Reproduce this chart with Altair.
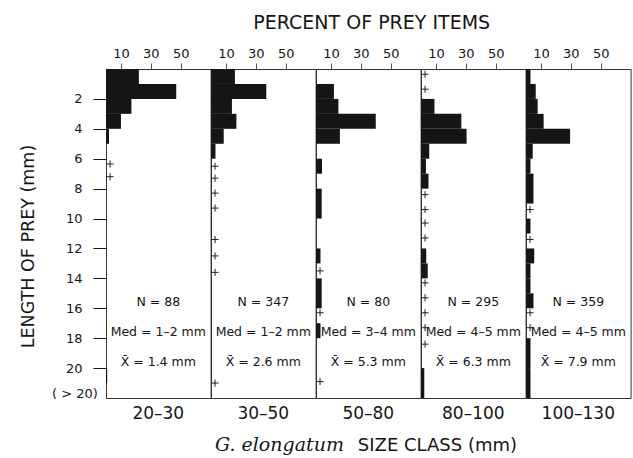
import altair as alt
import pandas as pd

size_classes = ["20–30", "30–50", "50–80", "80–100", "100–130"]

# prey-length bins (mm) and percent of prey items, one list per size class
bar_lo = [
    [0, 1, 2, 3, 4, 20],
    [0, 1, 2, 3, 4, 5],
    [1, 2, 3, 4, 6, 8, 12, 14, 17],
    [2, 3, 4, 5, 6, 7, 12, 13, 20],
    [0, 1, 2, 3, 4, 5, 6, 7, 10, 12, 13, 14, 15, 18, 20],
]
bar_hi = [
    [1, 2, 3, 4, 5, 21],
    [1, 2, 3, 4, 5, 6],
    [2, 3, 4, 5, 7, 10, 13, 16, 18],
    [3, 4, 5, 6, 7, 8, 13, 14, 22],
    [1, 2, 3, 4, 5, 6, 7, 9, 11, 13, 14, 15, 16, 20, 22],
]
bar_pct = [
    [22, 47, 17, 10, 2, 0.8],
    [16, 37, 14, 17, 8.5, 3],
    [12, 15, 40, 16, 4, 3.8, 3, 3.8, 3],
    [9, 27, 30.5, 5.5, 3.3, 5, 3.5, 4.5, 2.2],
    [3, 6.5, 7.8, 11.8, 29.5, 4.5, 3, 5, 3, 5.5, 3, 3, 5, 3, 3],
]
# "+" = present but < 0.5 %
plus_mm = [
    [6.35, 7.2],
    [6.5, 7.3, 8.3, 9.3, 11.4, 12.5, 13.6, 21.0],
    [13.5, 16.3, 20.9],
    [0.35, 1.35, 8.4, 9.4, 10.3, 11.3, 14.3, 15.3, 16.3, 17.3, 18.4],
    [9.4, 11.4, 16.3, 17.3],
]
n_labels = ["N = 88", "N = 347", "N = 80", "N = 295", "N = 359"]
med_labels = ["Med = 1–2 mm", "Med = 1–2 mm", "Med = 3–4 mm", "Med = 4–5 mm", "Med = 4–5 mm"]
mean_labels = ["X\u0304 = 1.4 mm", "X\u0304 = 2.6 mm", "X\u0304 = 5.3 mm", "X\u0304 = 6.3 mm", "X\u0304 = 7.9 mm"]
y_ticks = [2, 4, 6, 8, 10, 12, 14, 16, 18, 20]
x_ticks = [10, 20, 30, 40, 50, 60]

FONT = "DejaVu Sans"
INK = "#151515"
xs = alt.Scale(domain=[0, 70], nice=False, zero=False)
ys = alt.Scale(domain=[0, 22], reverse=True, nice=False, zero=False)

W, H = 104.6, 329


def panel(i):
    bars = pd.DataFrame({"lo": bar_lo[i], "hi": bar_hi[i], "pct": bar_pct[i]})
    bars["x0"] = 0
    xaxis = alt.Axis(
        orient="top", values=x_ticks, title=None, grid=False, domain=False,
        labelExpr="datum.value % 20 == 10 ? datum.label : ''",
        tickSize={"condition": {"test": "datum.value % 20 == 10", "value": 6}, "value": 3},
        tickColor="#555", labelFont=FONT, labelFontSize=13, labelColor=INK,
        labelPadding=3,
    )
    if i == 0:
        yaxis = alt.Axis(
            values=y_ticks, title="LENGTH OF PREY (mm)", grid=False, domain=False,
            tickSize=13, tickColor=INK, labelFont=FONT, labelFontSize=13,
            labelColor=INK, labelPadding=11,
            titleFont=FONT, titleFontSize=17.5, titleFontWeight="normal",
            titleColor=INK, titleAngle=270, titleBaseline="alphabetic",
            titleAlign="center", titleX=-73, titleY=177,
        )
    else:
        yaxis = None

    def Y(field):
        return alt.Y(field, scale=ys, axis=yaxis)

    layers = [
        alt.Chart(bars).mark_rect(color=INK).encode(
            x=alt.X("x0:Q", scale=xs, axis=xaxis),
            x2="pct:Q",
            y=Y("lo:Q"),
            y2="hi:Q",
        )
    ]
    plus = pd.DataFrame({"mm": plus_mm[i]})
    layers.append(
        alt.Chart(plus).mark_point(
            shape="M-1,0L1,0M0,-1L0,1", size=50, filled=False,
            stroke="#222", strokeWidth=1, opacity=1,
        ).encode(x=alt.datum(2.7), y=Y("mm:Q"))
    )
    stats = pd.DataFrame({
        "t": [n_labels[i], med_labels[i], mean_labels[i]],
        "mm": [15.6, 17.6, 19.6],
    })
    layers.append(
        alt.Chart(stats).mark_text(font=FONT, fontSize=12.5, color=INK, baseline="middle").encode(
            x=alt.datum(35), y=Y("mm:Q"), text="t:N"
        )
    )
    cls = pd.DataFrame({"t": [size_classes[i]], "mm": [23.1]})
    layers.append(
        alt.Chart(cls).mark_text(font=FONT, fontSize=17, color=INK, baseline="middle").encode(
            x=alt.datum(35), y=Y("mm:Q"), text="t:N"
        )
    )
    if i == 0:
        gt = pd.DataFrame({"t": ["( > 20)"], "mm": [21.7]})
        layers.append(
            alt.Chart(gt).mark_text(font=FONT, fontSize=13, color=INK, align="right", baseline="middle").encode(
                x=alt.datum(-5.4), y=Y("mm:Q"), text="t:N"
            )
        )
    if i == 2:
        top = pd.DataFrame({"t": ["PERCENT OF PREY ITEMS"], "mm": [-2.67]})
        layers.append(
            alt.Chart(top).mark_text(font=FONT, fontSize=19, color=INK, baseline="alphabetic").encode(
                x=alt.datum(37.3), y=Y("mm:Q"), text="t:N"
            )
        )
        sp = pd.DataFrame({"t": ["G. elongatum"], "mm": [25.55]})
        layers.append(
            alt.Chart(sp).mark_text(font="DejaVu Serif", fontStyle="italic", fontSize=19,
                                    color=INK, align="right", baseline="alphabetic").encode(
                x=alt.datum(18.7), y=Y("mm:Q"), text="t:N"
            )
        )
        sc = pd.DataFrame({"t": ["SIZE CLASS (mm)"], "mm": [25.55]})
        layers.append(
            alt.Chart(sc).mark_text(font=FONT, fontSize=18, color=INK, align="left", baseline="alphabetic").encode(
                x=alt.datum(28), y=Y("mm:Q"), text="t:N"
            )
        )
    return alt.layer(*layers).properties(width=W, height=H)


chart = alt.hconcat(*[panel(i) for i in range(5)], spacing=0, bounds="flush").properties(
    padding={"left": 18, "top": 13, "right": 0, "bottom": 0},
    background="white",
).configure_view(stroke="#333", strokeWidth=1)

chart.save("out.html", embed_options={"renderer": "svg", "actions": False})
